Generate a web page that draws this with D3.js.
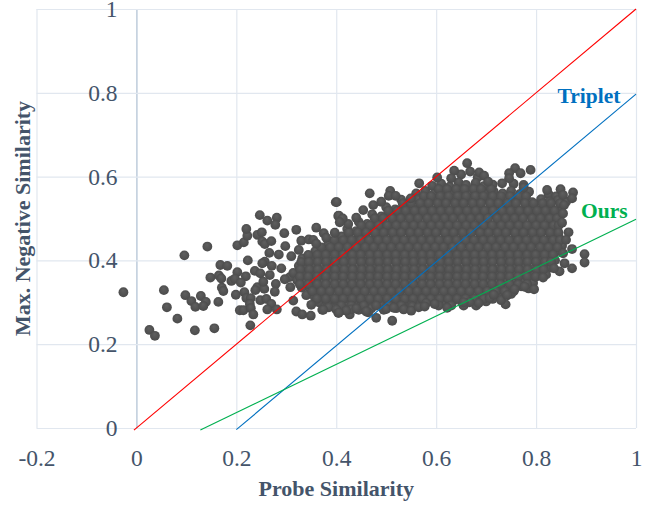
<!DOCTYPE html>
<html>
<head>
<meta charset="utf-8">
<script src="https://cdn.jsdelivr.net/npm/d3@7"></script>
<style>
  html, body { margin: 0; padding: 0; background: #fff; }
  text { font-family: "Liberation Serif", serif; }
</style>
</head>
<body>
<div id="scatter"></div>
<script>
// tick values and their labels
var xTicks = [-0.2, 0, 0.2, 0.4, 0.6, 0.8, 1];
var xTickLabels = ["-0.2", "0", "0.2", "0.4", "0.6", "0.8", "1"];
var yTicks = [0, 0.2, 0.4, 0.6, 0.8, 1];
var yTickLabels = ["0", "0.2", "0.4", "0.6", "0.8", "1"];

// reference lines, [probe, negative]
var redLine = [[-0.005, -0.005], [1, 1]];
var tripletLine = [[0.2, -0.004], [1, 0.797]];
var oursLine = [[0.128, -0.005], [1, 0.498]];

// loose points left of the cloud
var loosePoints = [
  [-0.026,0.324],[0.026,0.234],[0.037,0.22],[0.055,0.329],[0.061,0.288],[0.082,0.261],[0.096,0.412],
  [0.098,0.317],[0.11,0.303],[0.118,0.289],[0.129,0.315],[0.139,0.301],[0.134,0.291],[0.142,0.433],
  [0.164,0.301],[0.117,0.233],[0.156,0.238],[0.168,0.389],[0.182,0.387],[0.148,0.359],[0.165,0.364],
  [0.17,0.357],[0.202,0.372],[0.223,0.4],[0.202,0.436],[0.215,0.443],[0.222,0.459],[0.22,0.475],
  [0.242,0.461],[0.251,0.467],[0.247,0.508],[0.262,0.495],[0.281,0.502],[0.278,0.485],[0.296,0.465],
  [0.252,0.445],[0.257,0.439],[0.27,0.446],[0.298,0.434],[0.266,0.418],[0.285,0.414],[0.257,0.397],
  [0.252,0.393],[0.271,0.387],[0.237,0.375],[0.248,0.369],[0.267,0.365],[0.29,0.381],[0.219,0.362],
  [0.19,0.351],[0.197,0.356],[0.209,0.347],[0.171,0.335],[0.174,0.327],[0.199,0.318],[0.216,0.324],
  [0.242,0.336],[0.238,0.329],[0.256,0.332],[0.254,0.349],[0.279,0.344],[0.277,0.325],[0.307,0.36],
  [0.297,0.355],[0.308,0.336],[0.22,0.31],[0.229,0.31],[0.248,0.305],[0.26,0.308],[0.27,0.296],
  [0.227,0.296],[0.207,0.281],[0.214,0.281],[0.229,0.286],[0.234,0.271],[0.262,0.283],[0.281,0.283],
  [0.228,0.245],[0.314,0.304],[0.32,0.278],[0.332,0.271],[0.349,0.268],[0.372,0.282],[0.32,0.473],
  [0.36,0.478],[0.375,0.465],[0.399,0.539],[0.404,0.506],[0.33,0.447],[0.345,0.45],[0.31,0.41],[0.325,0.425]
];

// points on the outline of the cloud
var edgePoints = [
  [0.662,0.632],[0.636,0.614],[0.686,0.61],[0.696,0.602],[0.758,0.62],[0.789,0.616],[0.746,0.608],
  [0.769,0.608],[0.746,0.596],[0.566,0.584],[0.602,0.598],[0.467,0.56],[0.508,0.566],[0.505,0.554],
  [0.519,0.554],[0.401,0.539],[0.549,0.548],[0.849,0.57],[0.874,0.562],[0.872,0.548],[0.854,0.556],
  [0.822,0.568],[0.775,0.574],[0.732,0.584],[0.704,0.588],[0.63,0.596],[0.856,0.532],[0.854,0.512],
  [0.852,0.49],[0.865,0.467],[0.86,0.449],[0.872,0.427],[0.854,0.417],[0.897,0.415],[0.897,0.395],
  [0.857,0.393],[0.872,0.381],[0.847,0.374],[0.836,0.381],[0.814,0.359],[0.796,0.331],[0.757,0.331],
  [0.739,0.295],[0.73,0.305],[0.742,0.317],[0.685,0.298],[0.622,0.287],[0.597,0.296],[0.58,0.298],
  [0.552,0.29],[0.512,0.256],[0.48,0.263],[0.427,0.271],[0.404,0.275],[0.464,0.276],[0.43,0.283],
  [0.385,0.288],[0.4,0.283],[0.42,0.28],[0.44,0.285],[0.46,0.278],[0.5,0.284],[0.515,0.287],[0.535,0.283],
  [0.55,0.28],[0.565,0.288],[0.577,0.29],[0.35,0.294],[0.374,0.282],[0.405,0.275],[0.667,0.3],[0.707,0.31],
  [0.655,0.3],[0.715,0.318],[0.777,0.337],[0.44,0.502],[0.424,0.487],[0.397,0.466],[0.38,0.454],[0.454,0.52],
  [0.474,0.532],[0.49,0.54],[0.354,0.449],[0.405,0.507],[0.413,0.5],[0.407,0.491],[0.36,0.44]
];

// the dense middle of the cloud, read band by band
var corePoints = [
  [0.65,0.605],[0.668,0.612],[0.683,0.598],
  [0.592,0.578],[0.61,0.583],[0.627,0.576],[0.645,0.586],[0.66,0.58],[0.679,0.585],[0.695,0.577],[0.713,0.581],[0.755,0.583],[0.775,0.58],
  [0.56,0.56],[0.578,0.566],[0.595,0.558],[0.612,0.564],[0.63,0.558],[0.646,0.566],[0.665,0.56],[0.68,0.567],[0.698,0.559],[0.715,0.565],[0.733,0.56],[0.75,0.566],[0.768,0.559],[0.786,0.564],[0.825,0.558],[0.84,0.553],
  [0.53,0.545],[0.547,0.538],[0.565,0.546],[0.582,0.54],[0.6,0.547],[0.617,0.54],[0.635,0.545],[0.652,0.54],[0.67,0.546],[0.687,0.539],[0.705,0.545],[0.722,0.54],[0.74,0.546],[0.757,0.54],[0.775,0.545],[0.792,0.539],[0.81,0.546],[0.827,0.54],[0.844,0.544],[0.86,0.54],
  [0.5,0.527],[0.518,0.522],[0.535,0.529],[0.553,0.523],[0.57,0.528],[0.588,0.522],[0.605,0.529],[0.622,0.523],[0.64,0.528],[0.658,0.522],[0.675,0.529],[0.692,0.522],[0.71,0.528],[0.728,0.523],[0.745,0.529],[0.762,0.522],[0.78,0.528],[0.798,0.523],[0.815,0.527],[0.832,0.522],[0.85,0.526],
  [0.472,0.51],[0.49,0.505],[0.507,0.511],[0.525,0.504],[0.542,0.51],[0.56,0.505],[0.577,0.511],[0.595,0.504],[0.612,0.51],[0.63,0.505],[0.647,0.511],[0.665,0.504],[0.682,0.51],[0.7,0.505],[0.717,0.511],[0.735,0.504],[0.752,0.51],[0.77,0.505],[0.787,0.511],[0.805,0.504],[0.822,0.51],[0.84,0.505],
  [0.445,0.492],[0.462,0.487],[0.48,0.493],[0.497,0.486],[0.515,0.492],[0.532,0.487],[0.55,0.493],[0.567,0.486],[0.585,0.492],[0.602,0.487],[0.62,0.493],[0.637,0.486],[0.655,0.492],[0.672,0.487],[0.69,0.493],[0.707,0.486],[0.725,0.492],[0.742,0.487],[0.76,0.493],[0.777,0.486],[0.795,0.492],[0.812,0.487],[0.83,0.493],[0.846,0.487],
  [0.422,0.475],[0.44,0.47],[0.457,0.476],[0.475,0.469],[0.492,0.475],[0.51,0.47],[0.527,0.476],[0.545,0.469],[0.562,0.475],[0.58,0.47],[0.597,0.476],[0.615,0.469],[0.632,0.475],[0.65,0.47],[0.667,0.476],[0.685,0.469],[0.702,0.475],[0.72,0.47],[0.737,0.476],[0.755,0.469],[0.772,0.475],[0.79,0.47],[0.807,0.476],[0.825,0.469],[0.842,0.475],
  [0.411,0.457],[0.427,0.452],[0.444,0.458],[0.462,0.451],[0.479,0.457],[0.497,0.452],[0.514,0.458],[0.532,0.451],[0.549,0.457],[0.567,0.452],[0.584,0.458],[0.602,0.451],[0.619,0.457],[0.637,0.452],[0.654,0.458],[0.672,0.451],[0.689,0.457],[0.707,0.452],[0.724,0.458],[0.742,0.451],[0.759,0.457],[0.777,0.452],[0.794,0.458],[0.812,0.451],[0.829,0.457],[0.847,0.452],
  [0.384,0.44],[0.401,0.435],[0.418,0.441],[0.436,0.434],[0.453,0.44],[0.471,0.435],[0.488,0.441],[0.506,0.434],[0.523,0.44],[0.541,0.435],[0.558,0.441],[0.576,0.434],[0.593,0.44],[0.611,0.435],[0.628,0.441],[0.646,0.434],[0.663,0.44],[0.681,0.435],[0.698,0.441],[0.716,0.434],[0.733,0.44],[0.751,0.435],[0.768,0.441],[0.786,0.434],[0.803,0.44],[0.821,0.435],[0.838,0.441],[0.852,0.435],
  [0.358,0.422],[0.375,0.417],[0.392,0.423],[0.41,0.416],[0.427,0.422],[0.445,0.417],[0.462,0.423],[0.48,0.416],[0.497,0.422],[0.515,0.417],[0.532,0.423],[0.55,0.416],[0.567,0.422],[0.585,0.417],[0.602,0.423],[0.62,0.416],[0.637,0.422],[0.655,0.417],[0.672,0.423],[0.69,0.416],[0.707,0.422],[0.725,0.417],[0.742,0.423],[0.76,0.416],[0.777,0.422],[0.795,0.417],[0.812,0.423],[0.83,0.416],[0.842,0.422],
  [0.332,0.405],[0.348,0.4],[0.365,0.406],[0.383,0.399],[0.4,0.405],[0.418,0.4],[0.435,0.406],[0.453,0.399],[0.47,0.405],[0.488,0.4],[0.505,0.406],[0.523,0.399],[0.54,0.405],[0.558,0.4],[0.575,0.406],[0.593,0.399],[0.61,0.405],[0.628,0.4],[0.645,0.406],[0.663,0.399],[0.68,0.405],[0.698,0.4],[0.715,0.406],[0.733,0.399],[0.75,0.405],[0.768,0.4],[0.785,0.406],[0.803,0.399],[0.82,0.405],[0.838,0.4],
  [0.325,0.387],[0.342,0.382],[0.359,0.388],[0.377,0.381],[0.394,0.387],[0.412,0.382],[0.429,0.388],[0.447,0.381],[0.464,0.387],[0.482,0.382],[0.499,0.388],[0.517,0.381],[0.534,0.387],[0.552,0.382],[0.569,0.388],[0.587,0.381],[0.604,0.387],[0.622,0.382],[0.639,0.388],[0.657,0.381],[0.674,0.387],[0.692,0.382],[0.709,0.388],[0.727,0.381],[0.744,0.387],[0.762,0.382],[0.779,0.388],[0.797,0.381],[0.814,0.387],[0.83,0.383],
  [0.314,0.37],[0.331,0.365],[0.348,0.371],[0.366,0.364],[0.383,0.37],[0.401,0.365],[0.418,0.371],[0.436,0.364],[0.453,0.37],[0.471,0.365],[0.488,0.371],[0.506,0.364],[0.523,0.37],[0.541,0.365],[0.558,0.371],[0.576,0.364],[0.593,0.37],[0.611,0.365],[0.628,0.371],[0.646,0.364],[0.663,0.37],[0.681,0.365],[0.698,0.371],[0.716,0.364],[0.733,0.37],[0.751,0.365],[0.768,0.371],[0.786,0.364],[0.804,0.37],[0.82,0.366],
  [0.322,0.352],[0.339,0.347],[0.356,0.353],[0.374,0.346],[0.391,0.352],[0.409,0.347],[0.426,0.353],[0.444,0.346],[0.461,0.352],[0.479,0.347],[0.496,0.353],[0.514,0.346],[0.531,0.352],[0.549,0.347],[0.566,0.353],[0.584,0.346],[0.601,0.352],[0.619,0.347],[0.636,0.353],[0.654,0.346],[0.671,0.352],[0.689,0.347],[0.706,0.353],[0.724,0.346],[0.741,0.352],[0.759,0.347],[0.776,0.353],[0.794,0.346],
  [0.331,0.335],[0.348,0.33],[0.365,0.336],[0.383,0.329],[0.4,0.335],[0.418,0.33],[0.435,0.336],[0.453,0.329],[0.47,0.335],[0.488,0.33],[0.505,0.336],[0.523,0.329],[0.54,0.335],[0.558,0.33],[0.575,0.336],[0.593,0.329],[0.61,0.335],[0.628,0.33],[0.645,0.336],[0.663,0.329],[0.68,0.335],[0.698,0.33],[0.715,0.336],[0.733,0.329],[0.75,0.335],[0.77,0.338],[0.785,0.333],
  [0.34,0.317],[0.357,0.312],[0.375,0.318],[0.392,0.311],[0.41,0.317],[0.427,0.312],[0.445,0.318],[0.462,0.311],[0.48,0.317],[0.497,0.312],[0.515,0.318],[0.532,0.311],[0.55,0.317],[0.567,0.312],[0.585,0.318],[0.602,0.311],[0.62,0.317],[0.637,0.312],[0.655,0.318],[0.672,0.311],[0.69,0.317],[0.707,0.312],[0.725,0.318],[0.75,0.32],
  [0.365,0.3],[0.383,0.295],[0.4,0.301],[0.418,0.294],[0.435,0.3],[0.453,0.295],[0.47,0.301],[0.488,0.294],[0.505,0.3],[0.523,0.295],[0.54,0.301],[0.565,0.303],[0.6,0.305],[0.617,0.3],[0.635,0.304],[0.652,0.299],[0.67,0.303],[0.7,0.302],
  [0.41,0.285],[0.445,0.282],[0.47,0.285],[0.495,0.282],[0.52,0.286],[0.548,0.284]
];

// second layer of the cloud: one negative value, then the probe values at it
var fillRows = [
  [0.57, [0.605,0.622,0.64,0.657,0.675,0.69,0.71]],
  [0.553, [0.575,0.59,0.608,0.625,0.643,0.66,0.678,0.695,0.713,0.73,0.748,0.765,0.78]],
  [0.536, [0.533,0.55,0.568,0.585,0.603,0.62,0.638,0.655,0.673,0.69,0.708,0.725,0.743,0.76,0.778,0.795,0.813,0.83,0.848]],
  [0.518, [0.504,0.522,0.539,0.557,0.574,0.592,0.609,0.627,0.644,0.662,0.679,0.697,0.714,0.732,0.749,0.767,0.784,0.802,0.819,0.837]],
  [0.5, [0.477,0.494,0.512,0.529,0.547,0.564,0.582,0.599,0.617,0.634,0.652,0.669,0.687,0.704,0.722,0.739,0.757,0.774,0.792,0.809,0.827,0.842]],
  [0.483, [0.45,0.467,0.485,0.502,0.52,0.537,0.555,0.572,0.59,0.607,0.625,0.642,0.66,0.677,0.695,0.712,0.73,0.747,0.765,0.782,0.8,0.817,0.835,0.845]],
  [0.466, [0.425,0.443,0.46,0.478,0.495,0.513,0.53,0.548,0.565,0.583,0.6,0.618,0.635,0.653,0.67,0.688,0.705,0.723,0.74,0.758,0.775,0.793,0.81,0.828,0.845]],
  [0.448, [0.396,0.414,0.431,0.449,0.466,0.484,0.501,0.519,0.536,0.554,0.571,0.589,0.606,0.624,0.641,0.659,0.676,0.694,0.711,0.729,0.746,0.764,0.781,0.799,0.816,0.834,0.848]],
  [0.431, [0.37,0.388,0.405,0.423,0.44,0.458,0.475,0.493,0.51,0.528,0.545,0.563,0.58,0.598,0.615,0.633,0.65,0.668,0.685,0.703,0.72,0.738,0.755,0.773,0.79,0.808,0.825,0.843]],
  [0.413, [0.344,0.362,0.379,0.397,0.414,0.432,0.449,0.467,0.484,0.502,0.519,0.537,0.554,0.572,0.589,0.607,0.624,0.642,0.659,0.677,0.694,0.712,0.729,0.747,0.764,0.782,0.799,0.817,0.834]],
  [0.396, [0.33,0.345,0.363,0.38,0.398,0.415,0.433,0.45,0.468,0.485,0.503,0.52,0.538,0.555,0.573,0.59,0.608,0.625,0.643,0.66,0.678,0.695,0.713,0.73,0.748,0.765,0.783,0.8,0.818,0.83]],
  [0.378, [0.328,0.346,0.363,0.381,0.398,0.416,0.433,0.451,0.468,0.486,0.503,0.521,0.538,0.556,0.573,0.591,0.608,0.626,0.643,0.661,0.678,0.696,0.713,0.731,0.748,0.766,0.783,0.801,0.815]],
  [0.361, [0.327,0.344,0.362,0.379,0.397,0.414,0.432,0.449,0.467,0.484,0.502,0.519,0.537,0.554,0.572,0.589,0.607,0.624,0.642,0.659,0.677,0.694,0.712,0.729,0.747,0.764,0.782,0.799]],
  [0.343, [0.327,0.344,0.362,0.379,0.397,0.414,0.432,0.449,0.467,0.484,0.502,0.519,0.537,0.554,0.572,0.589,0.607,0.624,0.642,0.659,0.677,0.694,0.712,0.729,0.747,0.764,0.782]],
  [0.326, [0.352,0.37,0.387,0.405,0.422,0.44,0.457,0.475,0.492,0.51,0.527,0.545,0.562,0.58,0.597,0.615,0.632,0.65,0.667,0.685,0.702,0.72,0.737,0.755]],
  [0.308, [0.361,0.379,0.397,0.414,0.432,0.449,0.467,0.484,0.502,0.519,0.537,0.554,0.572,0.589,0.607,0.624,0.642,0.659,0.677,0.695,0.713]],
  [0.292, [0.41,0.43,0.455,0.48,0.505,0.53,0.55,0.605,0.63,0.655,0.68]]
];

var fillPoints = [];
fillRows.forEach(function(row) {
  row[1].forEach(function(probe) {
    fillPoints.push([probe, row[0]]);
  });
});

var allPoints = loosePoints.concat(corePoints).concat(fillPoints).concat(edgePoints);

var svgWidth = 650;
var svgHeight = 506;
var margin = { top: 9, right: 14, bottom: 78, left: 36.5 };
var width = svgWidth - margin.left - margin.right;
var height = svgHeight - margin.top - margin.bottom;

var tickColor = "#44546a";
var gridColor = "#e1e7ef";

var svg = d3.select("#scatter")
  .append("svg")
  .attr("width", svgWidth)
  .attr("height", svgHeight)
  .style("display", "block");

// shaded ball used for every point
var grad = svg.append("defs").append("radialGradient")
  .attr("id", "ball")
  .attr("cx", "50%").attr("cy", "50%").attr("r", "55%")
  .attr("fx", "45%").attr("fy", "30%");
grad.append("stop").attr("offset", "0%").attr("stop-color", "#5f5f5f");
grad.append("stop").attr("offset", "100%").attr("stop-color", "#4a4a4a");

var chartGroup = svg.append("g")
  .attr("transform", `translate(${margin.left}, ${margin.top})`);

var xScale = d3.scaleLinear().domain([-0.2, 1]).range([0, width]);
var yScale = d3.scaleLinear().domain([0, 1]).range([height, 0]);

// axes double as the grid
var xAxis = d3.axisBottom(xScale)
  .tickValues(xTicks)
  .tickSize(height)
  .tickPadding(21)
  .tickFormat((d, i) => xTickLabels[i]);
var yAxis = d3.axisLeft(yScale)
  .tickValues(yTicks)
  .tickSize(-width)
  .tickPadding(-81)
  .tickFormat((d, i) => yTickLabels[i]);

var xG = chartGroup.append("g").call(xAxis);
var yG = chartGroup.append("g").attr("transform", "translate(0,0)").call(yAxis);

xG.select(".domain").remove();
yG.select(".domain").remove();
xG.selectAll("line").attr("stroke", d => d === 0 ? "#aebfd2" : gridColor).attr("stroke-width", 1.2);
yG.selectAll("line").attr("stroke", gridColor).attr("stroke-width", 1.2);
xG.selectAll("text").attr("fill", tickColor).style("font-size", "23.5px").style("font-family", "'Liberation Serif', serif");
yG.selectAll("text").attr("fill", tickColor).style("font-size", "23.5px").style("font-family", "'Liberation Serif', serif")
  .attr("text-anchor", "end").attr("dy", "0.32em");

// points
chartGroup.append("g").selectAll("circle")
  .data(allPoints)
  .enter()
  .append("circle")
  .attr("cx", d => xScale(d[0]))
  .attr("cy", d => yScale(d[1]))
  .attr("r", 4.9)
  .attr("fill", "url(#ball)");

// lines over the points
var line = d3.line().x(d => xScale(d[0])).y(d => yScale(d[1]));
[[redLine, "#ff0000"], [tripletLine, "#0070c0"], [oursLine, "#00b050"]].forEach(function(l) {
  chartGroup.append("path")
    .attr("d", line(l[0]))
    .attr("fill", "none")
    .attr("stroke", l[1])
    .attr("stroke-width", 1.1);
});

// line labels
chartGroup.append("text")
  .attr("x", xScale(0.843)).attr("y", yScale(0.776))
  .attr("fill", "#0070c0")
  .style("font-size", "21.5px").style("font-weight", "bold")
  .text("Triplet");
chartGroup.append("text")
  .attr("x", xScale(0.89)).attr("y", yScale(0.501))
  .attr("fill", "#00b050")
  .style("font-size", "21.5px").style("font-weight", "bold")
  .text("Ours");

// axis titles
chartGroup.append("text")
  .attr("transform", `translate(${xScale(0.4)}, ${height + 68})`)
  .attr("text-anchor", "middle")
  .attr("fill", tickColor)
  .style("font-size", "22px").style("font-weight", "bold")
  .text("Probe Similarity");
chartGroup.append("text")
  .attr("transform", `translate(-7, ${yScale(0.5)}) rotate(-90)`)
  .attr("text-anchor", "middle")
  .attr("fill", tickColor)
  .style("font-size", "22px").style("font-weight", "bold")
  .text("Max. Negative Similarity");
</script>
</body>
</html>
